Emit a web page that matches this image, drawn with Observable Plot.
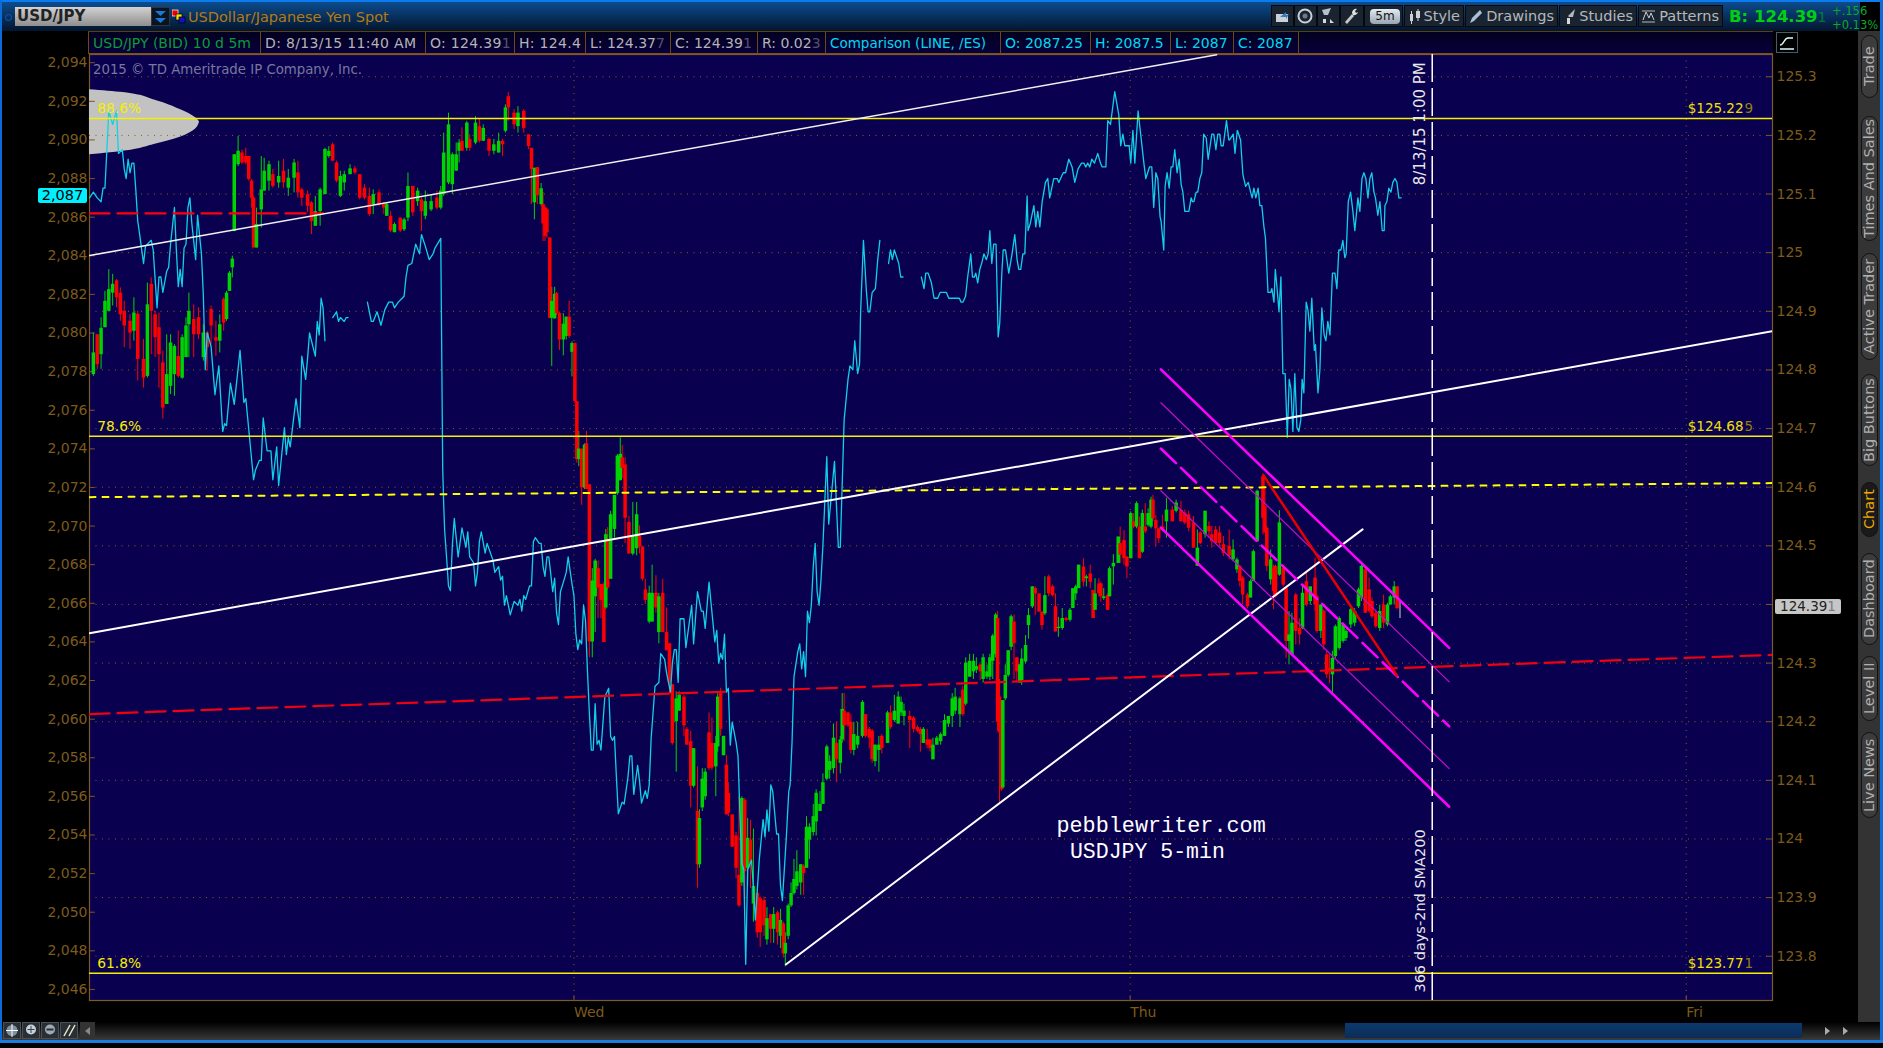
<!DOCTYPE html>
<html>
<head>
<meta charset="utf-8">
<script src="https://cdn.jsdelivr.net/npm/d3@7"></script>
<script src="https://cdn.jsdelivr.net/npm/@observablehq/plot@0.6"></script>
<style>
html,body{margin:0;padding:0;background:#000;width:1883px;height:1048px;overflow:hidden;font-family:"DejaVu Sans",sans-serif}
#stage{position:relative;width:1883px;height:1048px;overflow:hidden}
#chart{position:absolute;left:0;top:0}
.a{position:absolute;white-space:nowrap}
.cell{position:absolute;top:32px;height:22px;line-height:22px;font-size:14px;border-left:1px solid #6b4a14;padding-left:4px;box-sizing:border-box;overflow:hidden}
.dim{opacity:.45}
.btn{position:absolute;top:5px;height:22px;background:#1a2430;border:1px solid #05090f;color:#b4b8bc;font-size:14.5px;line-height:21px;box-sizing:border-box;text-align:right;padding-right:3px;overflow:hidden}
.tab{position:absolute;left:1861px;width:17px;border:1px solid #111;border-radius:9px;background:#3c3c3c;color:#b0b0b0;font-size:14.5px;box-sizing:border-box;writing-mode:vertical-rl;transform:rotate(180deg);text-align:center;line-height:15px;white-space:nowrap}
.tool{position:absolute;top:1022px;width:18px;height:17px;background:#2a2f36;border:1px solid #4a5058;box-sizing:border-box}
</style>
</head>
<body>
<div id="stage">
<div id="chart"></div>

<div class="a" style="left:0;top:0;width:1883px;height:2px;background:#0a7cf0"></div>
<div class="a" style="left:0;top:2px;width:1860px;height:29px;background:linear-gradient(#0c4c8e,#03152e)"></div>
<div class="a" style="left:0;top:0;width:2px;height:1043px;background:#0a6cd8"></div>
<div class="a" style="left:1880px;top:0;width:3px;height:1043px;background:#0a6cd8"></div>
<div class="a" style="left:5px;top:14px;width:5px;height:5px;border:1px solid #0a5cc0;border-radius:50%"></div>
<div class="a" style="left:15px;top:7px;width:136px;height:19px;background:linear-gradient(#d2d2d2,#8e8e8e);color:#222;font-size:15px;font-weight:bold;line-height:19px;padding-left:2px;box-sizing:border-box">USD/JPY</div>
<div class="a" style="left:151px;top:7px;width:19px;height:19px;background:#0a1420;border:1px solid #333;box-sizing:border-box">
  <svg width="17" height="17"><path d="M3 3h11l-5.5 5zM3 10h11l-5.5 5z" fill="#1a78d8"/></svg>
</div>
<svg class="a" style="left:172px;top:9px" width="14" height="15"><rect x="0" y="1" width="6" height="6" fill="#e00" stroke="#fff" stroke-width=".7"/><rect x="4" y="5" width="6" height="6" fill="#fd0" stroke="#000" stroke-width=".7"/><rect x="7" y="8" width="6" height="6" fill="#11c" stroke="#000" stroke-width=".7"/></svg>
<div class="a" style="left:188px;top:7px;color:#b47a12;font-size:14.5px;line-height:20px">USDollar/Japanese Yen Spot</div>

<div class="a" style="left:88px;top:31px;width:1685px;height:23px;background:linear-gradient(#02001e,#07003c);border-top:1px solid #5a3f10;border-bottom:1px solid #7a5216;box-sizing:border-box"></div>
<div class="cell" style="left:88px;width:172px;color:#0c9a3a">USD/JPY (BID) 10 d 5m</div>
<div class="cell" style="left:260px;width:165px;color:#b4b4b4;letter-spacing:.35px">D: 8/13/15 11:40 AM</div>
<div class="cell" style="left:425px;width:89px;color:#b4b4b4;letter-spacing:.3px">O: 124.39<span class="dim">1</span></div>
<div class="cell" style="left:514px;width:71px;color:#b4b4b4;letter-spacing:.3px">H: 124.4</div>
<div class="cell" style="left:585px;width:85px;color:#b4b4b4">L: 124.37<span class="dim">7</span></div>
<div class="cell" style="left:670px;width:87px;color:#b4b4b4">C: 124.39<span class="dim">1</span></div>
<div class="cell" style="left:757px;width:68px;color:#b4b4b4">R: 0.02<span class="dim">3</span></div>
<div class="cell" style="left:825px;width:175px;font-size:13.5px;color:#00d8f0">Comparison (LINE, /ES)</div>
<div class="cell" style="left:1000px;width:90px;color:#00d8f0">O: 2087.25</div>
<div class="cell" style="left:1090px;width:80px;color:#00d8f0">H: 2087.5</div>
<div class="cell" style="left:1170px;width:63px;color:#00d8f0">L: 2087</div>
<div class="cell" style="left:1233px;width:65px;color:#00d8f0">C: 2087</div>
<div class="a" style="left:1298px;top:32px;width:1px;height:22px;background:#6b4a14"></div>

<div class="btn" style="left:1271px;width:23px"><svg width="20" height="20"><path d="M4 8h12v8H4z" fill="#c8d0d8"/><path d="M8 11l6-5v3l3-1-3 5v-2z" fill="#3a78c0"/></svg></div>
<div class="btn" style="left:1294px;width:23px"><svg width="20" height="20"><circle cx="10" cy="10" r="6.5" fill="none" stroke="#c8d0d8" stroke-width="2"/><circle cx="10" cy="10" r="2.5" fill="#6a7a8a"/></svg></div>
<div class="btn" style="left:1317px;width:23px"><svg width="20" height="20"><path d="M4 4l9-2-3 7-4 0z" fill="#b8c0c8"/><path d="M5 13h3v4H5zM12 13l4 4h-4z" fill="#d8d8d8"/></svg></div>
<div class="btn" style="left:1340px;width:24px"><svg width="20" height="20"><path d="M4 16l7-8 2 2-7 8z" fill="#c8c8c8"/><path d="M11 7a4 4 0 0 1 5-4l-2 2 1 2 2-1a4 4 0 0 1-5 3z" fill="#e0e0e0"/></svg></div>
<div class="btn" style="left:1364px;width:39px;padding:0"><div style="position:absolute;left:5px;top:3px;width:30px;height:15px;border-radius:4px;background:linear-gradient(#e4ecf2,#98a4b0);color:#111;font-size:12px;line-height:15px;text-align:center">5m</div></div>
<div class="btn" style="left:1404px;width:60px">Style</div>
<div class="btn" style="left:1465px;width:93px">Drawings</div>
<div class="btn" style="left:1559px;width:78px">Studies</div>
<div class="btn" style="left:1638px;width:85px">Patterns</div>
<svg class="a" style="left:1407px;top:8px" width="16" height="17"><path d="M3 6h3v7H3zM9 3h4v7H9z" fill="#d0d0d0"/><path d="M4.500 3v13M11 1v12" stroke="#d0d0d0"/></svg>
<svg class="a" style="left:1468px;top:8px" width="16" height="17"><path d="M2 15l2-5 8-8 2 3-8 8z" fill="#a8c0d8"/></svg>
<svg class="a" style="left:1562px;top:8px" width="16" height="17"><path d="M6 8l7-7-2 8H7z" fill="#b0b8c0"/><path d="M5 10h3v6H5z" fill="#d8d8d8"/></svg>
<svg class="a" style="left:1641px;top:8px" width="16" height="17"><path d="M1 3h13M1 14h13" stroke="#b8b8b8"/><path d="M2 12l3-8 3 6 2-5 3 7" fill="none" stroke="#d0d0d0"/></svg>
<div class="a" style="left:1729px;top:4px;color:#00d010;font-size:16.5px;font-weight:bold;line-height:26px">B: 124.39<span class="dim" style="font-weight:normal;font-size:14px">1</span></div>
<div class="a" style="left:1832px;top:4px;color:#0ba82a;font-size:11.5px;line-height:14px;text-align:left">+.156<br>+0.13%</div>

<div class="a" style="left:1776px;top:32px;width:22px;height:21px;border:1px solid #4a5a6a;box-sizing:border-box;background:#000">
  <svg width="20" height="19"><path d="M3 12c4 0 4-7 8-7h5" fill="none" stroke="#dff" stroke-width="1.500"/><path d="M3 16h14" stroke="#dff" stroke-width="1.500"/></svg>
</div>

<div class="a" style="left:1858px;top:31px;width:22px;height:992px;background:#333"></div>
<div class="tab" style="top:35px;height:63px">Trade</div>
<div class="tab" style="top:116px;height:125px">Times And Sales</div>
<div class="tab" style="top:253px;height:107px">Active Trader</div>
<div class="tab" style="top:374px;height:92px">Big Buttons</div>
<div class="tab" style="top:482px;height:55px;color:#f0a800;background:#1a1a1a">Chart</div>
<div class="tab" style="top:553px;height:92px">Dashboard</div>
<div class="tab" style="top:656px;height:65px">Level II</div>
<div class="tab" style="top:732px;height:86px">Live News</div>

<div class="a" style="left:38px;top:188px;width:49px;height:15px;border-radius:2px;background:#00f0ff;color:#000;font-size:14.5px;line-height:15px;text-align:center">2,087</div>
<div class="a" style="left:1775px;top:599px;width:66px;height:15px;border-radius:2px;background:#c6c6c6;color:#222;font-size:13.5px;line-height:15px;text-align:center">124.39<span class="dim">1</span></div>

<div class="a" style="left:2px;top:1022px;width:1878px;height:18px;background:linear-gradient(#000,#3a3a3a)"></div>
<div class="a" style="left:0;top:1040px;width:1883px;height:3px;background:#1a7ce0"></div>
<div class="tool" style="left:3px"><svg width="16" height="15"><circle cx="8" cy="7.500" r="5.500" fill="#8090a0"/><path d="M8 1v13M2 7.500h12" stroke="#fff"/></svg></div>
<div class="tool" style="left:22px"><svg width="16" height="15"><circle cx="8" cy="6.500" r="5" fill="#c8d0d8"/><path d="M8 3v7M4.500 6.500h7" stroke="#345"/></svg></div>
<div class="tool" style="left:41px"><svg width="16" height="15"><circle cx="8" cy="6.500" r="5" fill="#a0a8b0"/><path d="M4.500 6.500h7" stroke="#234" stroke-width="2"/></svg></div>
<div class="tool" style="left:60px"><svg width="16" height="15"><path d="M3 13l6-11M8 13l6-11" stroke="#e8e8c8" stroke-width="1.500"/></svg></div>
<div class="a" style="left:80px;top:1022px;width:15px;height:17px;background:#333"></div>
<svg class="a" style="left:84px;top:1026px" width="8" height="10"><path d="M6 1v8L1 5z" fill="#888"/></svg>
<div class="a" style="left:1345px;top:1023px;width:457px;height:15px;background:linear-gradient(#0a3a6e,#0c2c55)"></div>
<svg class="a" style="left:1823px;top:1026px" width="30" height="10"><path d="M2 1v8l5-4zM20 1v8l5-4z" fill="#aaa"/></svg>
</div>

<script>
// Candles, 5-minute USD/JPY bars: [bar, open, high, low, close]
const candlesTue1 = [
[2,124.792,124.863,124.789,124.829],[4,124.860,124.860,124.801,124.809],[6,124.826,124.889,124.801,124.871],[8,124.872,124.934,124.872,124.917],
[10,124.900,124.971,124.900,124.937],[12,124.931,124.963,124.909,124.946],[14,124.952,124.954,124.906,124.923],[16,124.931,124.940,124.883,124.894],
[18,124.900,124.917,124.838,124.875],[21,124.883,124.894,124.835,124.863],[23,124.866,124.923,124.849,124.897],[25,124.895,124.900,124.781,124.818],
[28,124.818,124.852,124.769,124.786],[30,124.789,124.948,124.786,124.911],[32,124.946,124.957,124.826,124.900],[34,124.894,124.900,124.821,124.855],
[36,124.872,124.897,124.769,124.826],[38,124.812,124.832,124.716,124.735],[40,124.741,124.860,124.741,124.792],[42,124.772,124.860,124.758,124.846],
[44,124.792,124.843,124.755,124.840],[46,124.823,124.866,124.786,124.789],[48,124.786,124.860,124.784,124.855],[50,124.821,124.889,124.821,124.875],
[51.5,124.877,124.931,124.821,124.900],[54,124.886,124.911,124.821,124.860],[56.5,124.889,124.906,124.852,124.860],[59,124.821,124.877,124.815,124.863],
[61,124.863,124.866,124.798,124.838],[63,124.903,124.909,124.843,124.875],[65.5,124.855,124.883,124.823,124.849],[67.5,124.849,124.894,124.829,124.877],
[69.5,124.920,124.923,124.866,124.880],[71,124.886,124.934,124.883,124.931],[72.5,124.934,124.968,124.934,124.965],[74,124.974,124.994,124.957,124.989],
[75,125.036,125.167,125.036,125.167],[77,125.150,125.198,125.147,125.173],[79,125.170,125.175,125.150,125.153],[81,125.164,125.178,125.150,125.153],
[82.5,125.164,125.164,125.122,125.125],[84,125.122,125.125,125.076,125.093],[85,125.093,125.096,125.008,125.008],[86.5,125.008,125.076,125.008,125.048],
[89,125.073,125.164,125.042,125.107],[90.5,125.105,125.161,125.105,125.139],[93,125.122,125.156,125.105,125.150],[95,125.133,125.142,125.110,125.113],
[98,125.119,125.156,125.110,125.130],[100.5,125.139,125.159,125.110,125.119],[103,125.110,125.142,125.096,125.127],[106,125.127,125.159,125.102,125.153],
[108,125.136,125.156,125.093,125.102],[110,125.107,125.110,125.079,125.093],[113,125.099,125.105,125.068,125.079],[115,125.085,125.087,125.031,125.053],
[117,125.045,125.096,125.045,125.070],[119.5,125.070,125.110,125.045,125.107],[122,125.099,125.178,125.099,125.176],[124,125.164,125.181,125.161,125.173],
[126,125.184,125.187,125.156,125.156],[128,125.153,125.156,125.119,125.122],[130,125.096,125.139,125.094,125.130],[132,125.119,125.139,125.105,125.133],
[135,125.133,125.150,125.133,125.143],[137.5,125.143,125.147,125.133,125.136],[140,125.133,125.133,125.090,125.093],[142.5,125.110,125.116,125.090,125.093],
[145,125.096,125.110,125.062,125.065],[147,125.082,125.107,125.065,125.099],[150,125.102,125.107,125.079,125.082],[152.5,125.083,125.085,125.065,125.076],
[154,125.062,125.085,125.062,125.082],[156,125.062,125.070,125.034,125.037],[158,125.034,125.051,125.034,125.048],[161,125.059,125.059,125.034,125.037],
[163,125.039,125.059,125.036,125.056],[165,125.059,125.136,125.053,125.113],[167.5,125.113,125.113,125.062,125.068],[170,125.087,125.110,125.079,125.105],
[172,125.090,125.093,125.036,125.070],[174,125.062,125.105,125.056,125.087],[177,125.073,125.099,125.070,125.087],[180,125.093,125.105,125.073,125.076],
[182,125.076,125.113,125.073,125.105],[183.5,125.099,125.204,125.096,125.170],[186,125.119,125.238,125.116,125.218],[188,125.116,125.170,125.099,125.167],
[190,125.139,125.187,125.139,125.167],[191.5,125.173,125.193,125.153,125.187],[193,125.190,125.213,125.173,125.173],[195.5,125.178,125.224,125.173,125.221],
[197,125.193,125.201,125.173,125.178],[200,125.187,125.232,125.184,125.221],[202,125.215,125.227,125.187,125.190],[204,125.190,125.218,125.190,125.212],
[207,125.193,125.195,125.164,125.173],[209.5,125.173,125.193,125.167,125.184],[212,125.170,125.204,125.170,125.190],[214,125.190,125.193,125.164,125.184],
[215.5,125.207,125.252,125.204,125.247],[217,125.266,125.273,125.224,125.247],[220,125.238,125.244,125.210,125.218],[222,125.215,125.249,125.204,125.238],
[225,125.241,125.244,125.204,125.212],[227.5,125.201,125.201,125.176,125.181],[229,125.178,125.178,125.082,125.142],[230.5,125.085,125.144,125.056,125.144]
];
const candlesDrop = [
[232,125.145,125.145,125.082,125.097],[234,125.082,125.118,125.079,125.109],[235,125.082,125.103,125.019,125.049],[236,125.076,125.079,125.019,125.028],
[237,125.073,125.076,125.025,125.034],[238.5,125.025,125.025,124.887,124.888],[239.5,124.888,124.941,124.806,124.917],[241,124.887,124.941,124.887,124.929],
[242,124.930,124.932,124.893,124.896],[243.5,124.896,124.899,124.833,124.851],[245.5,124.851,124.896,124.824,124.878],[247,124.857,124.890,124.851,124.890],
[248.5,124.890,124.917,124.854,124.857],[250,124.830,124.848,124.788,124.845],[251.5,124.845,124.846,124.743,124.746],[252.5,124.746,124.746,124.641,124.647],
[253.5,124.647,124.695,124.635,124.665],[255,124.665,124.665,124.569,124.599],[256.5,124.599,124.674,124.596,124.672],[257.5,124.674,124.695,124.596,124.596]
];
const candlesWed1 = [
[259,124.604,124.604,124.309,124.336],[260.5,124.336,124.461,124.309,124.440],[262,124.413,124.477,124.352,124.474],[263.5,124.461,124.474,124.376,124.428],
[265,124.434,124.434,124.376,124.407],[266.5,124.434,124.437,124.335,124.335],[267.5,124.394,124.528,124.391,124.519],[268.5,124.510,124.531,124.425,124.428],
[270,124.443,124.559,124.443,124.553],[272,124.528,124.586,124.513,124.586],[273.5,124.589,124.656,124.586,124.653],[275,124.611,124.684,124.611,124.656],
[276,124.650,124.671,124.614,124.632],[277.5,124.638,124.650,124.504,124.547],[279.5,124.540,124.550,124.486,124.486],[281.5,124.486,124.574,124.483,124.516],
[283.5,124.495,124.574,124.483,124.553],[285,124.516,124.534,124.486,124.498],[286.5,124.498,124.498,124.440,124.443],[288,124.425,124.443,124.400,124.407],
[290,124.370,124.431,124.367,124.419],[291.5,124.370,124.467,124.370,124.419],[293.5,124.419,124.449,124.385,124.394],[295,124.352,124.419,124.333,124.413],
[297,124.419,124.443,124.352,124.352],[299,124.352,124.394,124.321,124.321],[300.5,124.333,124.333,124.248,124.266],[302,124.263,124.263,124.160,124.163],
[304,124.200,124.251,124.114,124.239],[305.5,124.218,124.251,124.218,124.245],[308,124.242,124.245,124.175,124.193],[309.5,124.187,124.190,124.160,124.160],
[311.5,124.166,124.184,124.053,124.090],[313,124.090,124.154,124.087,124.154],[315,124.047,124.123,123.916,123.956],[316,123.956,124.050,123.950,124.035],
[317.5,124.053,124.120,124.047,124.102],[319,124.072,124.120,124.066,124.114],[321,124.181,124.215,124.117,124.120],[322.5,124.163,124.206,124.117,124.121],
[324.5,124.123,124.175,124.072,124.163],[325.5,124.157,124.248,124.148,124.242],[327,124.248,124.257,124.175,124.187],[328.5,124.142,124.175,124.142,124.175],
[330,124.126,124.142,124.041,124.041],[331,124.078,124.096,124.038,124.044],[333,124.041,124.041,123.986,123.986],[335,124.005,124.011,123.932,123.950],
[336.5,123.938,124.072,123.883,123.886],[338,123.925,124.072,123.919,124.069],[339.5,124.066,124.069,123.901,123.944],[341,123.950,124.035,123.919,124.001],
[342.5,123.998,124.032,123.916,123.956],[344,123.889,124.017,123.858,123.919],[346,123.907,123.913,123.831,123.840],[347.5,123.898,123.901,123.815,123.840],
[349.5,123.895,123.901,123.834,123.852],[351,123.828,123.883,123.819,123.864],[353,123.871,123.871,123.822,123.846],[354.5,123.846,123.883,123.822,123.871],
[356.5,123.874,123.877,123.819,123.840],[358,123.834,123.880,123.813,123.861],[359.5,123.855,123.858,123.797,123.804],[360.5,123.804,123.840,123.782,123.822]
];
const candlesWed2 = [
[362,123.834,123.889,123.828,123.886],[363.5,123.886,123.925,123.883,123.907],[365,123.907,123.965,123.904,123.931],[366.5,123.919,123.980,123.913,123.944],
[368.5,123.925,123.956,123.904,123.956],[370,123.953,123.956,123.904,123.941],[371.5,123.950,124.038,123.950,124.020],[373,123.998,124.026,123.965,124.020],
[375,124.011,124.059,124.005,124.038],[376.5,124.029,124.084,124.005,124.078],[378.5,124.047,124.081,124.047,124.059],[380,124.059,124.111,124.059,124.096],
[382,124.102,124.160,124.099,124.157],[383.5,124.117,124.142,124.102,124.132],[385.5,124.120,124.196,124.111,124.172],[387,124.163,124.199,124.096,124.135],
[389,124.129,124.175,124.111,124.169],[390,124.169,124.248,124.163,124.221],[391,124.218,124.248,124.166,124.193],[393,124.215,124.215,124.190,124.193],
[394.5,124.199,124.212,124.145,124.151],[396,124.151,124.199,124.142,124.178],[398,124.160,124.199,124.154,124.175],[400.5,124.175,124.236,124.172,124.233],
[402,124.212,124.212,124.172,124.175],[404,124.187,124.190,124.154,124.172],[405.5,124.184,124.187,124.129,124.135],[407,124.132,124.160,124.123,124.160],
[409,124.151,124.175,124.114,124.160],[410.5,124.175,124.178,124.145,124.154],[413.5,124.163,124.218,124.163,124.215],[415,124.215,124.227,124.187,124.190],
[417,124.202,124.245,124.199,124.218],[419,124.196,124.251,124.196,124.242],[420.5,124.215,124.242,124.209,124.233],[422,124.209,124.230,124.193,124.218],
[425,124.209,124.218,124.154,124.202],[427,124.206,124.209,124.181,124.187],[429,124.190,124.193,124.181,124.184],[430.5,124.187,124.190,124.148,124.178],
[432,124.163,124.190,124.163,124.187],[434,124.169,124.187,124.154,124.160],[435.5,124.169,124.169,124.148,124.154],[437,124.135,124.172,124.135,124.160],
[439,124.160,124.175,124.160,124.172],[441,124.166,124.181,124.160,124.178],[443,124.175,124.212,124.175,124.202],[445,124.196,124.209,124.190,124.209],
[447,124.209,124.248,124.190,124.239],[448.5,124.218,124.257,124.212,124.242],[451,124.212,124.242,124.190,124.239],[452.5,124.254,124.260,124.209,124.212],
[454,124.230,124.309,124.227,124.300],[456,124.276,124.315,124.276,124.303],[458,124.285,124.315,124.272,124.303],[459.5,124.288,124.309,124.282,124.294],
[461.5,124.297,124.297,124.270,124.285],[463,124.272,124.315,124.266,124.309],[465,124.276,124.297,124.272,124.285],[466.5,124.276,124.315,124.270,124.309],
[468,124.303,124.349,124.272,124.346],[469.5,124.315,124.385,124.309,124.382],[470.5,124.376,124.388,124.184,124.199],[471.5,124.242,124.272,124.062,124.181],
[472.5,124.193,124.193,124.081,124.084],[473.2,124.087,124.236,124.084,124.236],[474.5,124.239,124.297,124.236,124.279],[476,124.279,124.321,124.276,124.321],
[477.5,124.327,124.382,124.321,124.379],[479,124.370,124.382,124.272,124.333],[480.5,124.309,124.309,124.266,124.285],[482,124.266,124.297,124.266,124.297]
];
const candlesWed3 = [
[483,124.270,124.324,124.262,124.307],[485,124.302,124.347,124.299,124.330],[486.5,124.364,124.393,124.341,124.381],[488.5,124.396,124.430,124.393,124.430],
[490,124.427,124.430,124.381,124.418],[492,124.418,124.418,124.387,124.387],[493.5,124.387,124.387,124.356,124.364],[495,124.384,124.447,124.381,124.415],
[497,124.447,124.450,124.413,124.418],[499,124.430,124.433,124.413,124.415],[500.5,124.396,124.418,124.353,124.353],[502,124.359,124.378,124.344,124.361],
[504,124.359,124.393,124.356,124.376],[506,124.376,124.378,124.370,124.373],[508,124.373,124.393,124.370,124.390],[509.5,124.393,124.427,124.393,124.427],
[511,124.418,124.433,124.407,124.430],[512.5,124.427,124.467,124.427,124.467],[515,124.464,124.478,124.430,124.438],[516.5,124.444,124.450,124.430,124.447],
[518.5,124.452,124.467,124.427,124.438],[520,124.424,124.424,124.376,124.376],[521,124.390,124.444,124.390,124.418],[523,124.435,124.444,124.413,124.418],
[524,124.435,124.438,124.404,124.413],[525.5,124.410,124.427,124.407,124.413],[527.5,124.415,124.418,124.390,124.390],[528.5,124.413,124.464,124.413,124.461],
[530.5,124.464,124.485,124.433,124.470],[533,124.470,124.515,124.470,124.515],[534,124.504,124.532,124.470,124.484],[536,124.509,124.526,124.467,124.478],
[537.5,124.481,124.481,124.444,124.464],[539.5,124.478,124.558,124.478,124.555],[541,124.541,124.555,124.529,124.532],[542.5,124.532,124.575,124.529,124.572],
[544,124.532,124.549,124.478,124.478],[545.5,124.489,124.561,124.487,124.555],[547,124.532,124.572,124.521,124.524],[548.5,124.535,124.563,124.532,124.555],
[550,124.532,124.583,124.529,124.578],[551,124.578,124.586,124.541,124.546],[552.5,124.543,124.552,124.498,124.529],[554,124.529,124.529,124.504,124.512],
[556,124.532,124.552,124.524,124.526]
];
const candlesThu = [
[558,124.541,124.581,124.513,124.561],[561,124.561,124.567,124.541,124.541],[563,124.559,124.578,124.556,124.573],[565.5,124.561,124.576,124.541,124.541],
[567.5,124.556,124.561,124.536,124.539],[569.5,124.553,124.559,124.524,124.530],[572,124.539,124.550,124.496,124.496],[574,124.465,124.527,124.465,124.496],
[575.5,124.522,124.524,124.502,124.504],[578,124.519,124.559,124.513,124.559],[580,124.533,124.541,124.513,124.524],[581.5,124.519,124.533,124.496,124.507],
[583.5,124.527,124.533,124.502,124.504],[585.5,124.522,124.533,124.499,124.504],[587.5,124.502,124.516,124.482,124.487],[590.5,124.499,124.527,124.476,124.482],
[592.5,124.476,124.510,124.473,124.493],[594.5,124.459,124.479,124.453,124.476],[596,124.465,124.467,124.430,124.439],[597.5,124.445,124.448,124.399,124.416],
[600,124.416,124.419,124.393,124.396],[601.5,124.411,124.442,124.411,124.439],[603,124.439,124.493,124.439,124.490],[605,124.507,124.595,124.507,124.593],
[608,124.618,124.621,124.519,124.547],[609,124.567,124.601,124.522,124.522],[610,124.530,124.533,124.456,124.465],[612,124.442,124.493,124.433,124.476],
[613.5,124.462,124.467,124.391,124.422],[614.5,124.465,124.467,124.411,124.413],[616.5,124.450,124.560,124.448,124.539],[618.5,124.462,124.465,124.430,124.433],
[620,124.428,124.428,124.308,124.337],[621.5,124.337,124.388,124.297,124.348],[623,124.314,124.385,124.314,124.368],[625,124.416,124.419,124.331,124.354],
[627,124.359,124.376,124.331,124.348],[628.5,124.359,124.433,124.357,124.419],[630.5,124.439,124.453,124.396,124.399],[632.5,124.405,124.430,124.399,124.430],
[635,124.445,124.479,124.388,124.399],[636,124.413,124.416,124.351,124.354],[638,124.354,124.399,124.342,124.399],[639.5,124.388,124.391,124.322,124.331],
[641,124.314,124.320,124.274,124.280],[642.5,124.291,124.314,124.265,124.285],[644,124.280,124.320,124.248,124.308],[645.5,124.311,124.365,124.308,124.362],
[647.5,124.325,124.379,124.322,124.376],[649.5,124.337,124.368,124.334,124.365],[651,124.342,124.357,124.337,124.354],[653.5,124.365,124.396,124.359,124.391],
[655.5,124.368,124.393,124.362,124.388],[657.5,124.396,124.428,124.393,124.425],[659,124.411,124.467,124.405,124.465],[661,124.459,124.462,124.385,124.385],
[663,124.425,124.445,124.385,124.388],[664.5,124.405,124.411,124.376,124.379],[666.5,124.385,124.388,124.359,124.362],[668.5,124.359,124.399,124.354,124.388],
[670.5,124.399,124.416,124.359,124.368],[672.5,124.365,124.402,124.362,124.399],[674,124.399,124.416,124.399,124.413],[676,124.411,124.439,124.399,124.430],
[677.5,124.430,124.430,124.391,124.393],[679,124.391,124.405,124.376,124.391]
];

// Comparison line (/ES) on the left axis: [bar, value]. One array per unbroken run.
const esRunA = [[0,2087],[2,2087.3],[4,2087],[6,2086.8],[7,2087.5],[8,2087.5],[10,2091.5],[12,2090.8],[14,2091.5],[15,2089.3],[17,2089.5],[18,2088.5],[19,2088],[20,2089],[21,2088.3],[22,2088.8],[23,2088.8],[24,2087.4],[25,2085.8],[26,2085.1],[28,2083.6],[29,2084.5],[32,2084.8],[33,2084.3],[35,2081.3],[36,2082.9],[37,2082.9],[38,2082.1],[40,2083.2],[41,2083.4],[42,2084.6],[44,2086.5],[45,2084.3],[46,2082.4],[47,2083.3],[48,2082.4],[49,2084.4],[50,2084.6],[51,2086.5],[52,2087],[53,2085.7],[55,2083.8],[56,2086.1],[58,2084.1],[59,2081.9],[60,2078.1],[61,2080],[63,2079.3],[65,2076.8],[67,2078.3],[69,2074.9],[70,2075.3],[71,2075.2],[73,2077.4],[75,2076.3],[78,2079.1],[80,2076.4],[81,2076.6],[83,2074.5],[85,2072.4],[86,2072.9],[88,2073.4],[89,2073.4],[90,2075.6],[92,2073.9],[94,2073.9],[95,2072.4],[97,2074.1],[98,2072.1],[101,2075.1],[102,2073.7],[103,2074.6],[104,2074.1],[107,2076.6],[109,2075.1],[110,2078.8],[112,2077.6],[113,2078.7],[114,2080],[117,2078.8],[118,2080.6],[119,2079.9],[120,2081.8],[121,2081.3],[122,2079.6]];
const esRunB = [[126,2080.8],[128,2081.1],[129,2080.6],[130,2080.8],[132,2080.6],[133,2080.8],[134,2080.8]];
const esRunC1 = [[144,2081.6],[146,2080.6],[147,2080.6],[149,2081.1],[151,2080.4],[153,2081.2],[155,2081.6],[157,2081.6],[158,2081.3],[160,2081.6],[162,2081.8],[163,2081.9],[164,2082.9],[165,2083.5],[167,2083.6],[169,2084.6],[171,2084.1],[172,2085.1],[174,2084.5],[176,2083.8],[178,2084.1],[179,2084.4],[182,2084.9],[183,2073],[183.5,2071.2],[184,2069.8],[185,2068.4],[186,2066.9],[187,2066.65],[188,2069],[189,2070.4],[191,2068.4],[193,2069.9],[195,2068.9],[196,2069.7],[197,2068.4],[199,2068.1],[200,2066.9],[201,2067.6],[202,2069.2],[203,2069.7],[205,2068.6],[206,2069.1],[209,2068.25],[210,2067.6],[212,2067.9],[213,2067.2],[214,2067.4],[215,2065.9],[216,2066.4],[218,2065.4],[220,2066.1],[222,2065.9],[223,2066.2],[224,2065.6],[225,2066.4],[226,2066.2],[228,2066.9],[229,2066.9],[230,2069.2],[231,2069.4],[233,2069.1],[234,2069.1],[235,2067.9],[236,2067.4],[237,2068.4],[238,2068.4],[240,2066.6],[241,2067.3],[242,2065.5],[243,2064.9],[244,2066.6],[246,2067.25],[247,2067.6],[248,2068.4],[250,2067],[251,2066.4],[252,2064.4],[253,2063.6]];
const esRunC2 = [[254,2064.1],[255,2063.9],[256,2065.9],[257,2065.1],[258,2062.5],[259,2060.3],[260,2058.4],[261,2058.4],[262,2060.8],[263,2058.7],[264,2058.9],[265,2058.4],[267,2061.15],[269,2061.6],[270,2059.1],[271,2058.9],[272,2059.1],[273,2057],[274,2055.1],[276,2055.7],[277,2055.6],[279,2057],[280,2058.1],[281,2058.1],[282,2056.1],[284,2057.6],[285,2056.8],[286,2055.65],[288,2056.3],[289,2055.9],[290,2056.6],[291,2059],[293,2061.7],[295,2061.9],[296,2063.4],[298,2063.1],[299,2062.4],[301,2061.4],[302,2062.9],[303,2063.6],[304,2063.6],[305,2061.9],[306,2065.2],[308,2065.2],[309,2063.7],[312,2065.9],[313,2063.9],[315,2066.6],[317,2065.6],[318,2065.6],[319,2064.7],[321,2067.1],[322,2066.05],[324,2064],[325,2064.6],[326,2062.9],[327,2063.4],[328,2063.1],[329,2064.4],[330,2061.4],[331,2061.6],[332,2058.65],[333,2059.85],[335,2058.8],[336,2058.1],[337,2055.1],[338,2052.55],[339,2052.2],[340,2047.3],[341,2052.2],[343,2052.7],[344,2051.25],[345,2049.6],[347,2052.7],[349,2054.8],[350,2053.9],[351,2055.3],[352,2054.2],[353,2056.6],[354,2056.25],[356,2054.05],[357,2054.05],[358,2051.4],[359,2050.6],[361,2053.8],[362.3,2056.25],[363,2056.6],[364,2058.8],[365,2062.2],[367,2063.5],[368,2063.9],[369,2062.6],[370,2063.5],[371,2062.2],[372,2065.6],[373,2065],[374,2065.9],[375,2067.9],[376,2069.1],[377,2066.6],[378,2065.9],[379,2067.2],[380,2069],[382,2073.6],[383,2070.1],[386,2073.35],[388,2068.9],[389,2068.9],[391,2075.5],[393,2077.6],[394,2078.3],[395.5,2078.1],[396.5,2079.6],[398,2077.9],[399,2078.4],[399.5,2081],[401,2084.8],[402.5,2082.2],[403.4,2081.1],[404.3,2081.1],[405.5,2082.1],[407.2,2082.3],[408.4,2083.8],[409.5,2084.8]];
const esRunD = [[414,2083.6],[415,2084.3],[416,2083.8],[417,2084.3],[419.3,2083.6],[420.3,2082.9],[421.5,2082.9]];
const esRunE1 = [[431,2082.9],[432.4,2082.3],[433.3,2083.1],[434.5,2083.1],[436.2,2082.6],[437.6,2081.8],[439.5,2081.8],[440.7,2082.1],[444,2082.1],[445.2,2081.8],[450.7,2081.8],[451.6,2081.6],[452.6,2081.6],[453.9,2081.9],[455,2082.9],[456.6,2084.1],[457.5,2082.9],[458.5,2082.9],[459.2,2083.1],[460.2,2082.6],[461.3,2083.3],[462.5,2083.7],[463.4,2084.1],[464.7,2083.8],[465.6,2084.1],[466.5,2085.3],[467.5,2083.6],[468.5,2084.6],[469.7,2084.6],[470.8,2079.8],[471.6,2080.5],[472.7,2083.1],[473.4,2084.3],[474.6,2084.3],[476.3,2083.1],[478,2084.1],[479.4,2085.1],[480.6,2083.8],[481.5,2083.3],[482.5,2083.3],[483.6,2084.1],[484.6,2084.1],[485.8,2087.1],[486.3,2085.3],[487.5,2085.7],[489.3,2086.6],[490.3,2085.5],[491.3,2086.3],[492.4,2085.5],[493.6,2086.8],[495.3,2087.8],[496.5,2088],[497.5,2087],[499.6,2088],[501.4,2088],[502.2,2087.8],[504.5,2088.3],[505.7,2088.3],[507.4,2089],[509.1,2088.6],[510.5,2087.8],[512.2,2088.5],[514,2088.8],[515.2,2088.8],[516.2,2088.6],[517.2,2088.8],[518.3,2088.6],[519.3,2089],[520.7,2088.8],[522.4,2089.3],[523.8,2088.8],[524.7,2088.6],[526.6,2088.6],[527.6,2091],[529,2090.8],[531.2,2092.5],[533.3,2091.3],[534.3,2089.7],[535.4,2090.3],[536.4,2089.7],[538.7,2089.7],[539.5,2088.8],[540.6,2090.5],[541.6,2088.8],[543.3,2091.5],[546.3,2088.8],[547.3,2088],[549.2,2088.6],[550.4,2088.6],[551.4,2086.5],[552.5,2088.3],[553.5,2088],[554.7,2086],[555.2,2085.8],[556.6,2084.3],[557.3,2087.6],[558.3,2088.3],[559.4,2087.5],[560.4,2088.6],[561.3,2088.6],[562.3,2089.5],[563.5,2088.3],[564.6,2089],[565.6,2087.7],[566.5,2087.3],[567.5,2086.3],[569.6,2086.3],[570.8,2087],[571.5,2086.8],[572.2,2086.8],[573.4,2087.3],[574.2,2087.3],[575.3,2088],[576.3,2088.3],[577.3,2090.3],[578.6,2090.1],[579.6,2089],[581.5,2090.3],[582.5,2090.3],[583.6,2089.5],[584.6,2090.3],[585.6,2090.3],[586.3,2089.7],[587.4,2089.7],[589.1,2091],[590.3,2090]];
const esRunE2 = [[590.7,2090],[592.6,2090.3],[593.5,2089.3],[594.7,2090.5],[596.4,2090],[597.6,2088.2],[599,2087.6],[600.4,2087.8],[601.6,2087.3],[602.4,2087],[603.3,2087.5],[604.3,2087],[605.5,2087.5],[606.4,2086.6],[607.4,2086.6],[608.5,2085.5],[609.3,2084.9],[610.6,2082.1],[612,2082.1],[612.6,2082.3],[613.7,2081.6],[614.4,2083.3],[615.4,2082.2],[616.3,2081.1],[617.3,2082.9],[618.3,2077.9],[619.5,2077.9],[620.6,2074.6],[621.6,2077.6],[622.5,2077.1],[623.5,2074.9],[624.5,2077.9],[625.6,2075.1],[626.6,2074.9],[627.6,2075.5],[628.3,2077.6],[629.2,2076.9],[630.4,2081.6],[631.3,2081.2],[632.3,2080.1],[633.3,2081.8],[634.6,2079.1],[635.2,2079.4],[636.5,2076.9],[637.5,2078.1],[638.5,2081.3],[639.7,2079.9],[640.6,2079.6],[641.6,2080.6],[642.7,2079.9],[644,2083.1],[645.3,2083.1],[646.3,2082.3],[647.3,2084.3],[648.4,2084.3],[649.4,2084.8],[650.4,2083.9],[651.1,2084.1],[652.2,2086.8],[653.4,2087.3],[654.6,2086.3],[655.6,2085.3],[657.2,2087],[658.2,2086.3],[659.3,2088],[660.3,2088.3],[661.3,2088],[662.4,2087],[663.4,2088],[664.4,2088.3],[665.5,2087.3],[666.3,2087],[667.5,2086.1],[668.6,2086.8],[669.8,2085.3],[670.8,2085.3],[671.2,2086.6],[672.2,2086.8],[673.2,2087.5],[674.3,2087.3],[675.3,2087.8],[676.4,2088],[677.4,2087.8],[678.4,2087],[679.6,2087]];

// Levels, trendlines and channel as [bar, price] end points
const fibLevels = [125.229, 124.687, 123.771];
const fibPercents = ["88.6%", "78.6%", "61.8%"];
const fibPrices = ["$125.22", "$124.68", "$123.77"];
const fibDigits = ["9", "5", "1"];
const upperTrend = [[0,124.995],[584,125.3375]];
const lowerTrend = [[0,124.351],[872,124.866]];
const riseTrend = [[360.8,123.786],[659.6,124.528]];
const yellowDash = [[0,124.583],[872,124.607]];
const redDash = [[0,124.213],[872,124.314]];
const redShort = [[0,125.067],[121,125.067]];
const redDiag = [[608.1,124.621],[677.4,124.279]];
const channelTop = [[555.1,124.801],[704.5,124.326]];
const channelUpperMid = [[555.1,124.744],[704.5,124.268]];
const channelMid = [[555.1,124.666],[704.5,124.192]];
const channelLowerMid = [[555.1,124.594],[704.5,124.120]];
const channelBottom = [[555.1,124.531],[704.5,124.055]];
const ovalEdge = [[0,125.167,125.278],[17.5,125.173,125.273],[34,125.185,125.260],[47,125.197,125.244],[55,125.211,125.230],[57,125.223,125.223]];
const eventBar = 695.7;

// Axes. The 124.4 label sits hidden under the last-price badge in the reference.
const priceTicks = [125.3,125.2,125.1,125,124.9,124.8,124.7,124.6,124.5,124.4,124.3,124.2,124.1,124,123.9,123.8];
const priceLabels = [125.3,125.2,125.1,125,124.9,124.8,124.7,124.6,124.5,124.3,124.2,124.1,124,123.9,123.8];
const esTicks = [2094,2092,2090,2088,2086,2084,2082,2080,2078,2076,2074,2072,2070,2068,2066,2064,2062,2060,2058,2056,2054,2052,2050,2048,2046];
const dayBars = [251, 539.2, 827.3];
const dayNames = ["Wed", "Thu", "Fri"];

// The comparison axis is linear against the price axis
const esToPrice = v => 125.324 - (2094 - v) * 0.03293;
const priceToEs = p => 2094 - (125.324 - p) / 0.03293;

const candles = [...candlesTue1, ...candlesDrop, ...candlesWed1, ...candlesWed2, ...candlesWed3, ...candlesThu]
  .map(([bar,o,h,l,c]) => ({bar,o,h,l,c,color: c > o ? "#00d400" : c < o ? "#ff0000" : "#d0d0d0"}));
const esRuns = [esRunA, esRunB, [...esRunC1, ...esRunC2], esRunD, [...esRunE1, ...esRunE2]];

const brown = "#7d5a1e";
const gridBrown = "#8a5f18";
const seg = (pts, o) => Plot.line(pts, {x: d => d[0], y: d => d[1], clip: true, ...o});

const chart = Plot.plot({
  width: 1883, height: 1048,
  marginLeft: 89, marginRight: 111, marginTop: 54, marginBottom: 48,
  style: {background: "#000", fontFamily: "'DejaVu Sans', sans-serif", overflow: "visible"},
  x: {domain: [0, 872], axis: null},
  y: {domain: [123.7245, 125.338]},
  color: {type: "identity"},
  marks: [
    Plot.frame({fill: "#0a0050", stroke: brown, strokeWidth: 1.2}),
    Plot.area(ovalEdge, {x1: d => d[0], y1: d => d[1], y2: d => d[2], fill: "#c2c2c2", curve: "monotone-y", clip: true}),
    Plot.ruleY(priceTicks, {stroke: gridBrown, strokeDasharray: "1,5.500", strokeWidth: 1}),
    Plot.ruleX(dayBars.slice(), {stroke: gridBrown, strokeDasharray: "1,5.500", strokeWidth: 1}),
    Plot.ruleY(priceTicks, {x1: 869, x2: 872, stroke: brown}),
    Plot.ruleY(esTicks.map(esToPrice), {x1: 0, x2: 3, stroke: brown}),
    Plot.ruleX(dayBars.slice(), {y1: 123.7245, y2: 123.7325, stroke: brown}),
    Plot.axisY({anchor: "left", ticks: esTicks.map(esToPrice), tickSize: 0, tickPadding: 2,
      tickFormat: p => d3.format(",")(Math.round(priceToEs(p))), label: null, fill: brown, fontSize: 14}),
    Plot.axisY({anchor: "right", ticks: priceLabels, tickSize: 0, tickPadding: 4,
      tickFormat: p => String(+p.toFixed(1)), label: null, fill: brown, fontSize: 14}),
    Plot.text(dayNames, {x: (d,i) => dayBars[i], y: 123.7245, dy: 12, textAnchor: "start", fill: brown, fontSize: 14}),

    Plot.ruleX(candles, {x: "bar", y1: "l", y2: "h", stroke: "color", strokeWidth: 1}),
    Plot.ruleX(candles, {x: "bar", y1: "o", y2: "c", stroke: "color", strokeWidth: 3.500}),
    ...esRuns.map(run => Plot.line(run, {x: d => d[0], y: d => esToPrice(d[1]), stroke: "#10d0e8", strokeWidth: 1.300, clip: true})),

    Plot.ruleY(fibLevels, {stroke: "#f4f000", strokeWidth: 1.500}),
    seg(yellowDash, {stroke: "#ffff00", strokeWidth: 2, strokeDasharray: "6,7"}),
    seg(redDash, {stroke: "#f00010", strokeWidth: 2.200, strokeDasharray: "20,8"}),
    seg(redShort, {stroke: "#ff0010", strokeWidth: 2.200, strokeDasharray: "20,8"}),
    seg(upperTrend, {stroke: "#f0f0f0", strokeWidth: 1.500}),
    seg(lowerTrend, {stroke: "#ffffff", strokeWidth: 2}),
    seg(riseTrend, {stroke: "#ffffff", strokeWidth: 2}),
    seg(channelTop, {stroke: "#ff00ff", strokeWidth: 2.500}),
    seg(channelUpperMid, {stroke: "#c010c8", strokeWidth: 1.200}),
    seg(channelMid, {stroke: "#ff00ff", strokeWidth: 2.500, strokeDasharray: "21,7"}),
    seg(channelLowerMid, {stroke: "#c010c8", strokeWidth: 1.200}),
    seg(channelBottom, {stroke: "#ff00ff", strokeWidth: 2.500}),
    seg(redDiag, {stroke: "#e80000", strokeWidth: 2.500}),
    Plot.ruleX([eventBar], {stroke: "#ffffff", strokeWidth: 1.500, strokeDasharray: "28,6"}),

    Plot.text(fibPercents, {x: 4, y: (d,i) => fibLevels[i], dy: -10, textAnchor: "start", fill: "#f4f000", fontSize: 13.800}),
    Plot.text(fibPrices, {x: 857, y: (d,i) => fibLevels[i], dy: -10, textAnchor: "end", fill: "#f0e000", fontSize: 13.500}),
    Plot.text(fibDigits, {x: 857.500, y: (d,i) => fibLevels[i], dy: -10, textAnchor: "start", fill: "#8e7f10", fontSize: 13.500}),
    Plot.text(["2015 © TD Ameritrade IP Company, Inc."], {x: 1.800, y: 125.312, textAnchor: "start", fill: "#78789c", fontSize: 13.300}),
    Plot.text(["8/13/15 1:00 PM"], {x: 689.6, y: 125.115, rotate: -90, textAnchor: "start", fill: "#e8e8e8", fontSize: 15}),
    Plot.text(["366 days-2nd SMA200"], {x: 689.6, y: 123.738, rotate: -90, textAnchor: "start", fill: "#e8e8e8", fontSize: 14.500}),
    Plot.text(["pebblewriter.com"], {x: 501, y: 124.023, textAnchor: "start", fill: "#ffffff", fontSize: 21.800, fontFamily: "'Liberation Mono', monospace"}),
    Plot.text(["USDJPY 5-min"], {x: 508, y: 123.98, textAnchor: "start", fill: "#ffffff", fontSize: 21.500, fontFamily: "'Liberation Mono', monospace"})
  ]
});
document.getElementById("chart").appendChild(chart);
</script>
</body>
</html>
